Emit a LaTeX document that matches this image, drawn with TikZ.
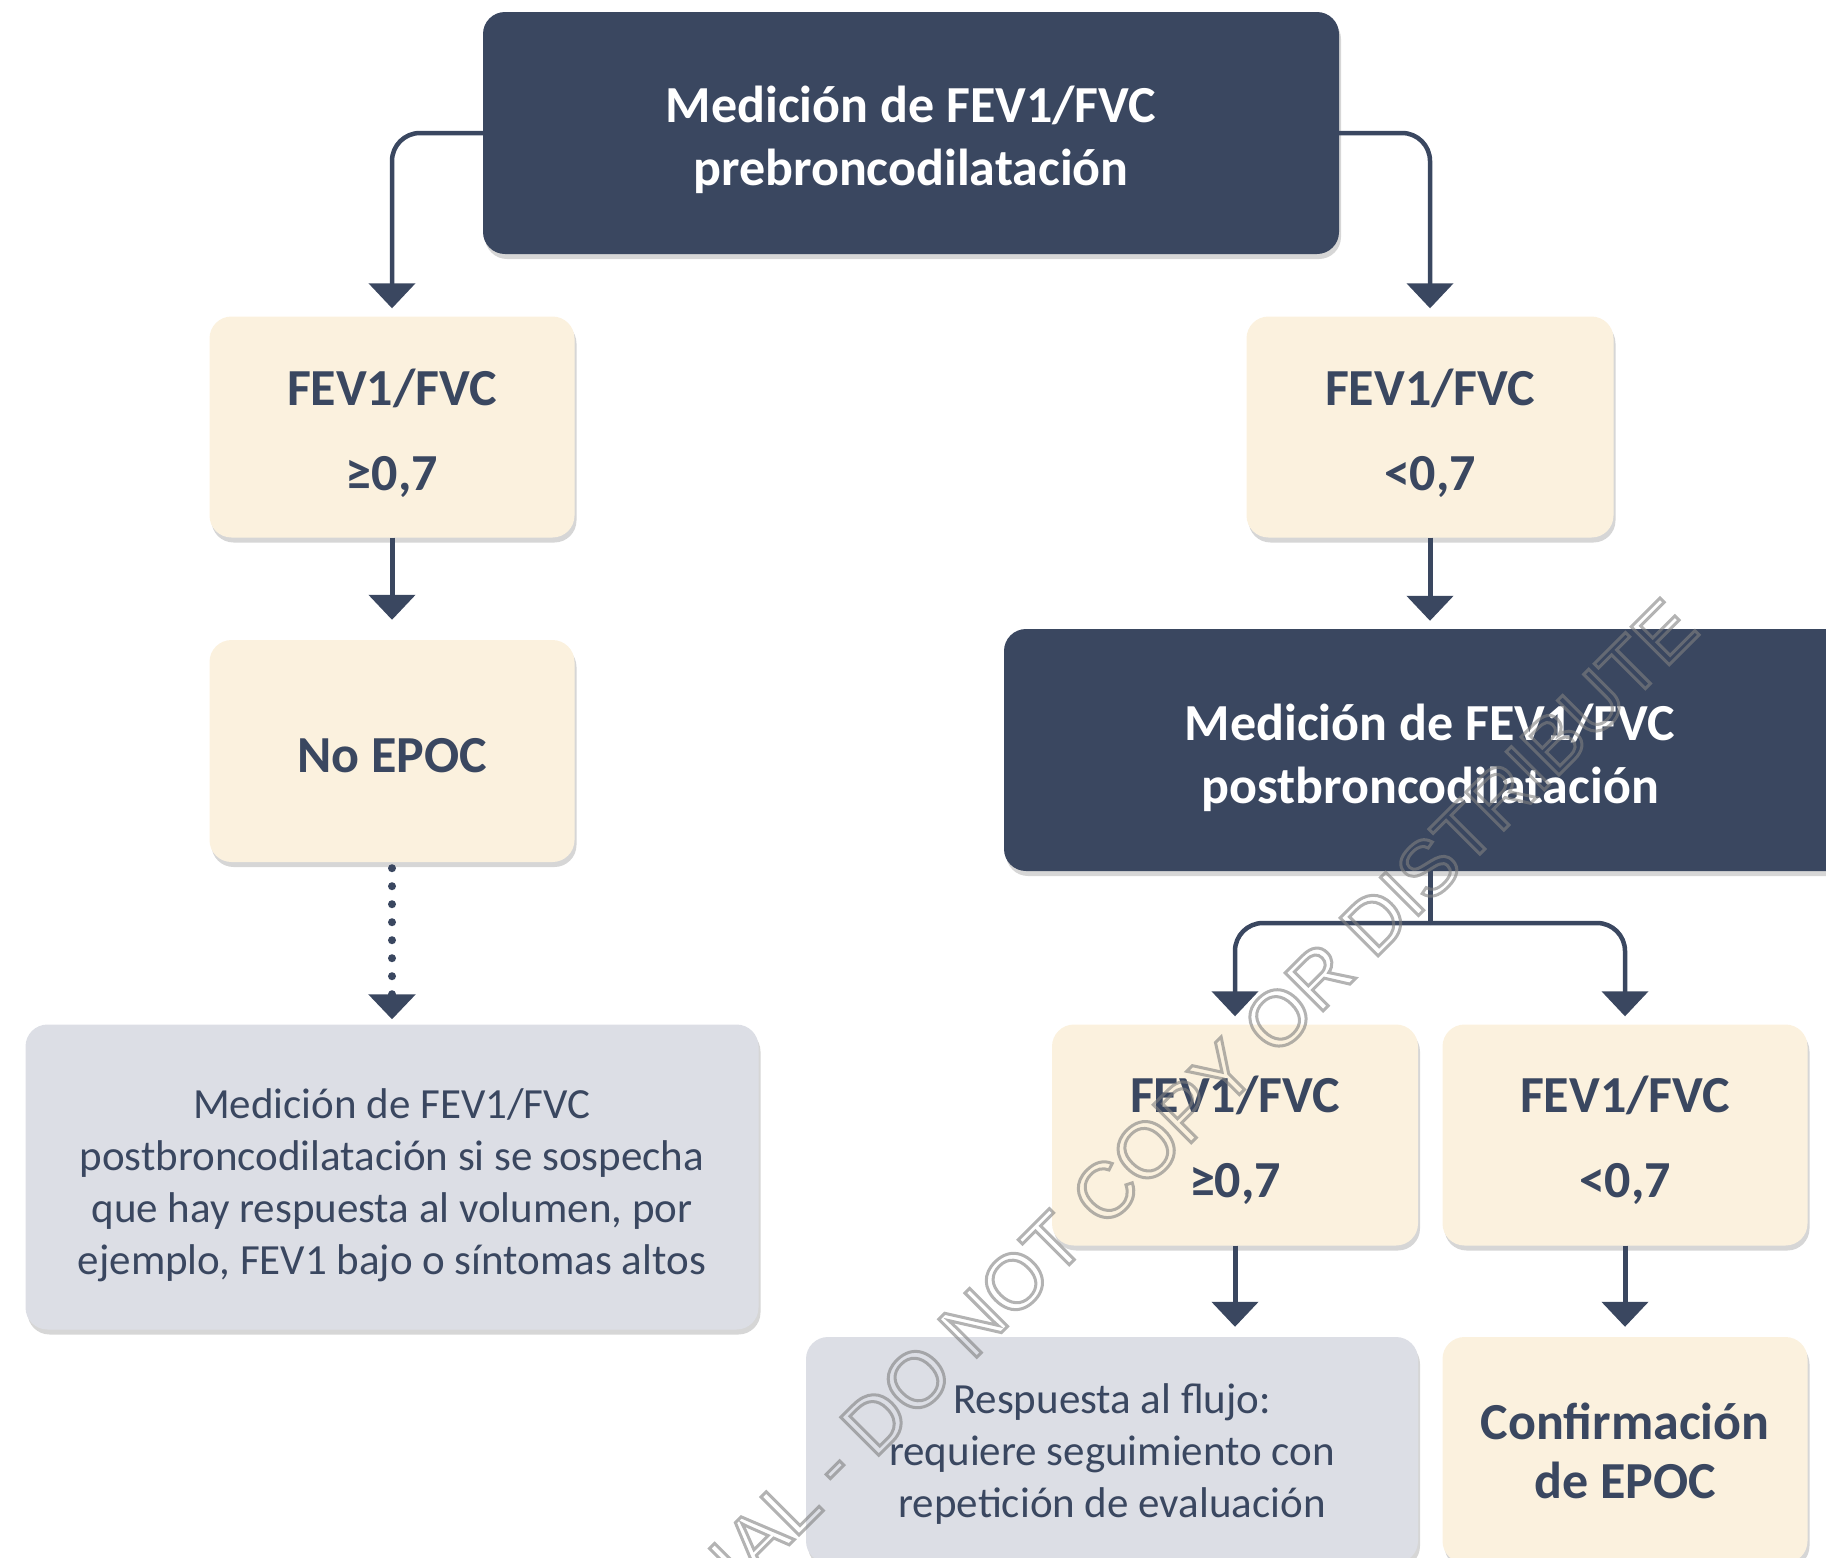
\documentclass[tikz,border=0pt]{standalone}
\usepackage{fontspec}
\setmainfont{Carlito}
\newfontfamily\wmfont{Liberation Sans}
\usetikzlibrary{arrows.meta,shadows,calc}
\definecolor{navy}{HTML}{3A4760}
\definecolor{cream}{HTML}{FBF1DE}
\definecolor{greyfill}{HTML}{DCDEE5}
\definecolor{navytext}{HTML}{3A4760}
\makeatletter
\newcommand\outlineon{\pgfsys@invoke{1 Tr 3 w}}
\newcommand\outlineoff{\pgfsys@invoke{0 Tr}}
\makeatother
\begin{document}
\begin{tikzpicture}[x=1pt,y=-1pt,
  box/.style={rectangle, rounded corners=22pt, inner sep=0pt,
    drop shadow={shadow xshift=2pt, shadow yshift=-5pt, opacity=0.16, fill=black}},
  darkbox/.style={box, fill=navy},
  creambox/.style={box, fill=cream},
  greybox/.style={box, fill=greyfill},
  darktext/.style={align=center, inner sep=0pt, text=white, font=\bfseries\fontsize{52}{63}\selectfont},
  creamtext/.style={align=center, inner sep=0pt, text=navytext, font=\bfseries\fontsize{52}{63}\selectfont},
  greytext/.style={align=center, inner sep=0pt, text=navytext, font=\fontsize{43}{52}\selectfont},
  arr/.style={draw=navy, line width=5pt, -{Triangle[length=25pt,width=46pt]}},
  elbow/.style={arr, line width=4.5pt, rounded corners=28pt},
  dotline/.style={arr, line width=8pt, line cap=round, dash pattern=on 0pt off 18pt},
  watermark/.style={rotate=45, text=black!50, opacity=0.6, inner sep=0pt, font=\wmfont\fontsize{78}{78}\selectfont}
]
\useasboundingbox (0,0) rectangle (1826,1558);
\clip (0,0) rectangle (1826,1558);

% boxes
\node[darkbox, minimum width=856pt, minimum height=242pt] (top) at (911,133) {};
\node[creambox, minimum width=365pt, minimum height=221pt] (l1) at (392,427) {};
\node[creambox, minimum width=367pt, minimum height=221pt] (r1) at (1430,427) {};
\node[creambox, minimum width=365pt, minimum height=222pt] (noepoc) at (392,751) {};
\node[darkbox, minimum width=852pt, minimum height=242pt] (mid) at (1430,750) {};
\node[greybox, minimum width=733pt, minimum height=305pt] (g1) at (392,1177) {};
\node[creambox, minimum width=366pt, minimum height=221pt] (b1) at (1235,1135) {};
\node[creambox, minimum width=365pt, minimum height=221pt] (b2) at (1625,1135) {};
\node[greybox, minimum width=612pt, minimum height=226pt] (resp) at (1112,1450) {};
\node[creambox, minimum width=365pt, minimum height=226pt] (conf) at (1625,1450) {};

% texts
\node[darktext] (topT) at ($(top.center)+(0,7)$) {Medición de FEV1/FVC\\prebroncodilatación};
\node[creamtext] (l1T) at ($(l1.center)+(0,6)$) {FEV1/FVC\\[22pt]≥0,7};
\node[creamtext] (r1T) at ($(r1.center)+(0,6)$) {FEV1/FVC\\[22pt]<0,7};
\node[creamtext] (noepocT) at ($(noepoc.center)+(0,5)$) {No EPOC};
\node[darktext] (midT) at ($(mid.center)+(0,8)$) {Medición de FEV1/FVC\\postbroncodilatación};
\node[greytext] (g1T) at ($(g1.center)+(0,8)$) {Medición de FEV1/FVC\\postbroncodilatación si se sospecha\\que hay respuesta al volumen, por\\ejemplo, FEV1 bajo o síntomas altos};
\node[creamtext] (b1T) at ($(b1.center)+(0,5)$) {FEV1/FVC\\[22pt]≥0,7};
\node[creamtext] (b2T) at ($(b2.center)+(0,5)$) {FEV1/FVC\\[22pt]<0,7};
\node[greytext] (respT) at ($(resp.center)+(0,4)$) {Respuesta al flujo:\\requiere seguimiento con\\repetición de evaluación};
\node[creamtext, font=\bfseries\fontsize{52}{59}\selectfont] (confT) at ($(conf.center)+(0,1)$) {Confirmación\\de EPOC};

% connectors
\draw[elbow, shorten >=8pt] (top.west) -| (l1.north);
\draw[elbow, shorten >=8pt] (top.east) -| (r1.north);
\draw[arr, shorten >=20pt] (l1.south) -- (noepoc.north);
\draw[arr, shorten >=8pt] (r1.south) -- (mid.north);
\draw[dotline, shorten >=5pt] ($(noepoc.south)+(0,6)$) -- (g1.north);
\coordinate (split) at (1430,923);
\draw[draw=navy, line width=5pt] (mid.south) -- (split);
\draw[elbow, shorten >=8pt] (split) -| (b1.north);
\draw[elbow, shorten >=8pt] (split) -| (b2.north);
\draw[arr, shorten >=10pt] (b1.south) -- (b1.south |- resp.north);
\draw[arr, shorten >=10pt] (b2.south) -- (conf.north);

% watermark
\node[watermark] (wm) at (1203,1093) {\outlineon IAL - DO NOT COPY OR DISTRIBUTE\outlineoff};
\end{tikzpicture}
\end{document}
